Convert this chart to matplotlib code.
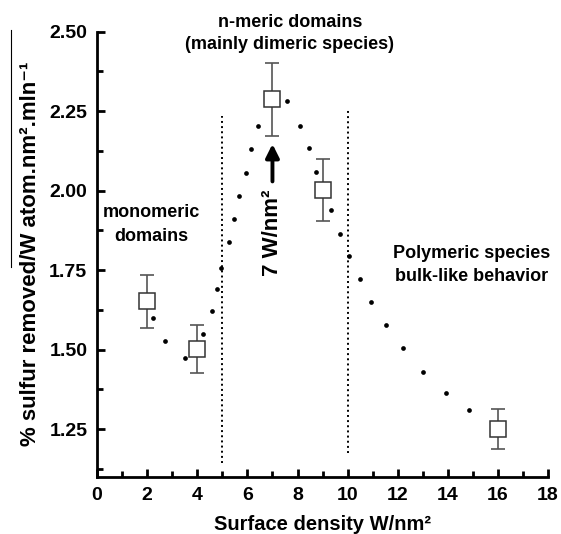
import matplotlib
matplotlib.use("Agg")
import matplotlib.pyplot as plt
from matplotlib.lines import Line2D
from matplotlib.ticker import MultipleLocator, FormatStrFormatter

plt.rcParams['font.family'] = ['Liberation Sans', 'DejaVu Sans']
plt.rcParams['font.weight'] = 'bold'

# measured points (surface density W/nm2, % sulfur removed)
density = [2, 4, 7, 9, 16]
removal = [1.653, 1.501, 2.288, 2.002, 1.250]
err_up = [1.733, 1.577, 2.401, 2.099, 1.314]
err_low = [1.568, 1.426, 2.172, 1.904, 1.188]

# dotted guide curve (dot positions)
guide_x = [2.25, 2.72, 3.51, 4.24, 4.59, 4.80, 4.95, 5.25, 5.48, 5.68, 5.95,
           6.13, 6.44, 7.57, 8.08, 8.45, 8.73, 9.35, 9.68, 10.05, 10.48,
           10.95, 11.55, 12.19, 13.01, 13.91, 14.85]
guide_y = [1.600, 1.527, 1.474, 1.550, 1.621, 1.692, 1.758, 1.839, 1.912,
           1.984, 2.056, 2.130, 2.203, 2.280, 2.203, 2.133, 2.059, 1.939,
           1.865, 1.794, 1.721, 1.650, 1.577, 1.505, 1.430, 1.365, 1.311]

# regime borders
borders = [5, 10]
border_bottom = [1.145, 1.176]
border_top = [2.235, 2.253]

fig = plt.figure(figsize=(5.61, 5.34), dpi=100)
ax = fig.add_axes([0.173, 0.107, 0.804, 0.834])

ax.plot(guide_x, guide_y, linestyle='none', marker='o', markersize=3.4,
        color='black', markeredgewidth=0)

yerr = [[r - lo for r, lo in zip(removal, err_low)],
        [hi - r for r, hi in zip(removal, err_up)]]
ax.errorbar(density, removal, yerr=yerr, fmt='none', ecolor='#555555',
            elinewidth=1.2, capsize=5, capthick=1.2, zorder=2)
ax.plot(density, removal, linestyle='none', marker='s', markersize=11,
        markerfacecolor='white', markeredgecolor='#333333',
        markeredgewidth=1.1, zorder=3)

for xb, lo, hi in zip(borders, border_bottom, border_top):
    ax.plot([xb, xb], [lo, hi], linestyle=':', color='black', linewidth=1.4)

# arrow pointing at the maximum
ax.annotate('', xy=(7, 2.155), xytext=(7, 2.02),
            arrowprops=dict(arrowstyle='-|>', color='black', lw=2.8,
                            mutation_scale=20))
ax.text(7.0, 1.868, '7 W/nm²', rotation=90, ha='center', va='center',
        fontsize=16, fontweight='bold')

ax.text(2.15, 1.93, 'monomeric', ha='center', va='center', fontsize=13)
ax.text(2.15, 1.855, 'domains', ha='center', va='center', fontsize=13)
ax.text(7.7, 2.528, 'n-meric domains', ha='center', va='center',
        fontsize=13, clip_on=False)
ax.text(7.7, 2.458, '(mainly dimeric species)', ha='center', va='center',
        fontsize=13, clip_on=False)
ax.text(14.95, 1.803, 'Polymeric species', ha='center', va='center',
        fontsize=13)
ax.text(14.95, 1.730, 'bulk-like behavior', ha='center', va='center',
        fontsize=13)

ax.set_xlim(0, 18)
ax.set_ylim(1.1, 2.5)
ax.xaxis.set_major_locator(MultipleLocator(2))
ax.xaxis.set_minor_locator(MultipleLocator(1))
ax.yaxis.set_major_locator(MultipleLocator(0.25))
ax.yaxis.set_minor_locator(MultipleLocator(0.125))
ax.yaxis.set_major_formatter(FormatStrFormatter('%.2f'))
ax.set_yticks([1.25, 1.5, 1.75, 2.0, 2.25, 2.5])

ax.spines['top'].set_visible(False)
ax.spines['right'].set_visible(False)
ax.spines['left'].set_linewidth(2)
ax.spines['bottom'].set_linewidth(2)
ax.tick_params(which='major', direction='in', length=6, width=2,
               labelsize=14, pad=7)
ax.tick_params(which='minor', direction='in', length=4, width=2)
for lab in ax.get_xticklabels() + ax.get_yticklabels():
    lab.set_fontweight('bold')

ax.set_xlabel('Surface density W/nm²', fontsize=14.5, fontweight='bold',
              labelpad=8)
ax.set_ylabel('% sulfur removed/W atom.nm².mln⁻¹', fontsize=16,
              fontweight='bold', labelpad=6)

# thin stray rule left of the y label in the original figure
fig.add_artist(Line2D([11 / 561, 11 / 561], [1 - 30 / 534, 1 - 267 / 534],
                      color='black', linewidth=0.8))

fig.savefig('out.png', dpi=100)
